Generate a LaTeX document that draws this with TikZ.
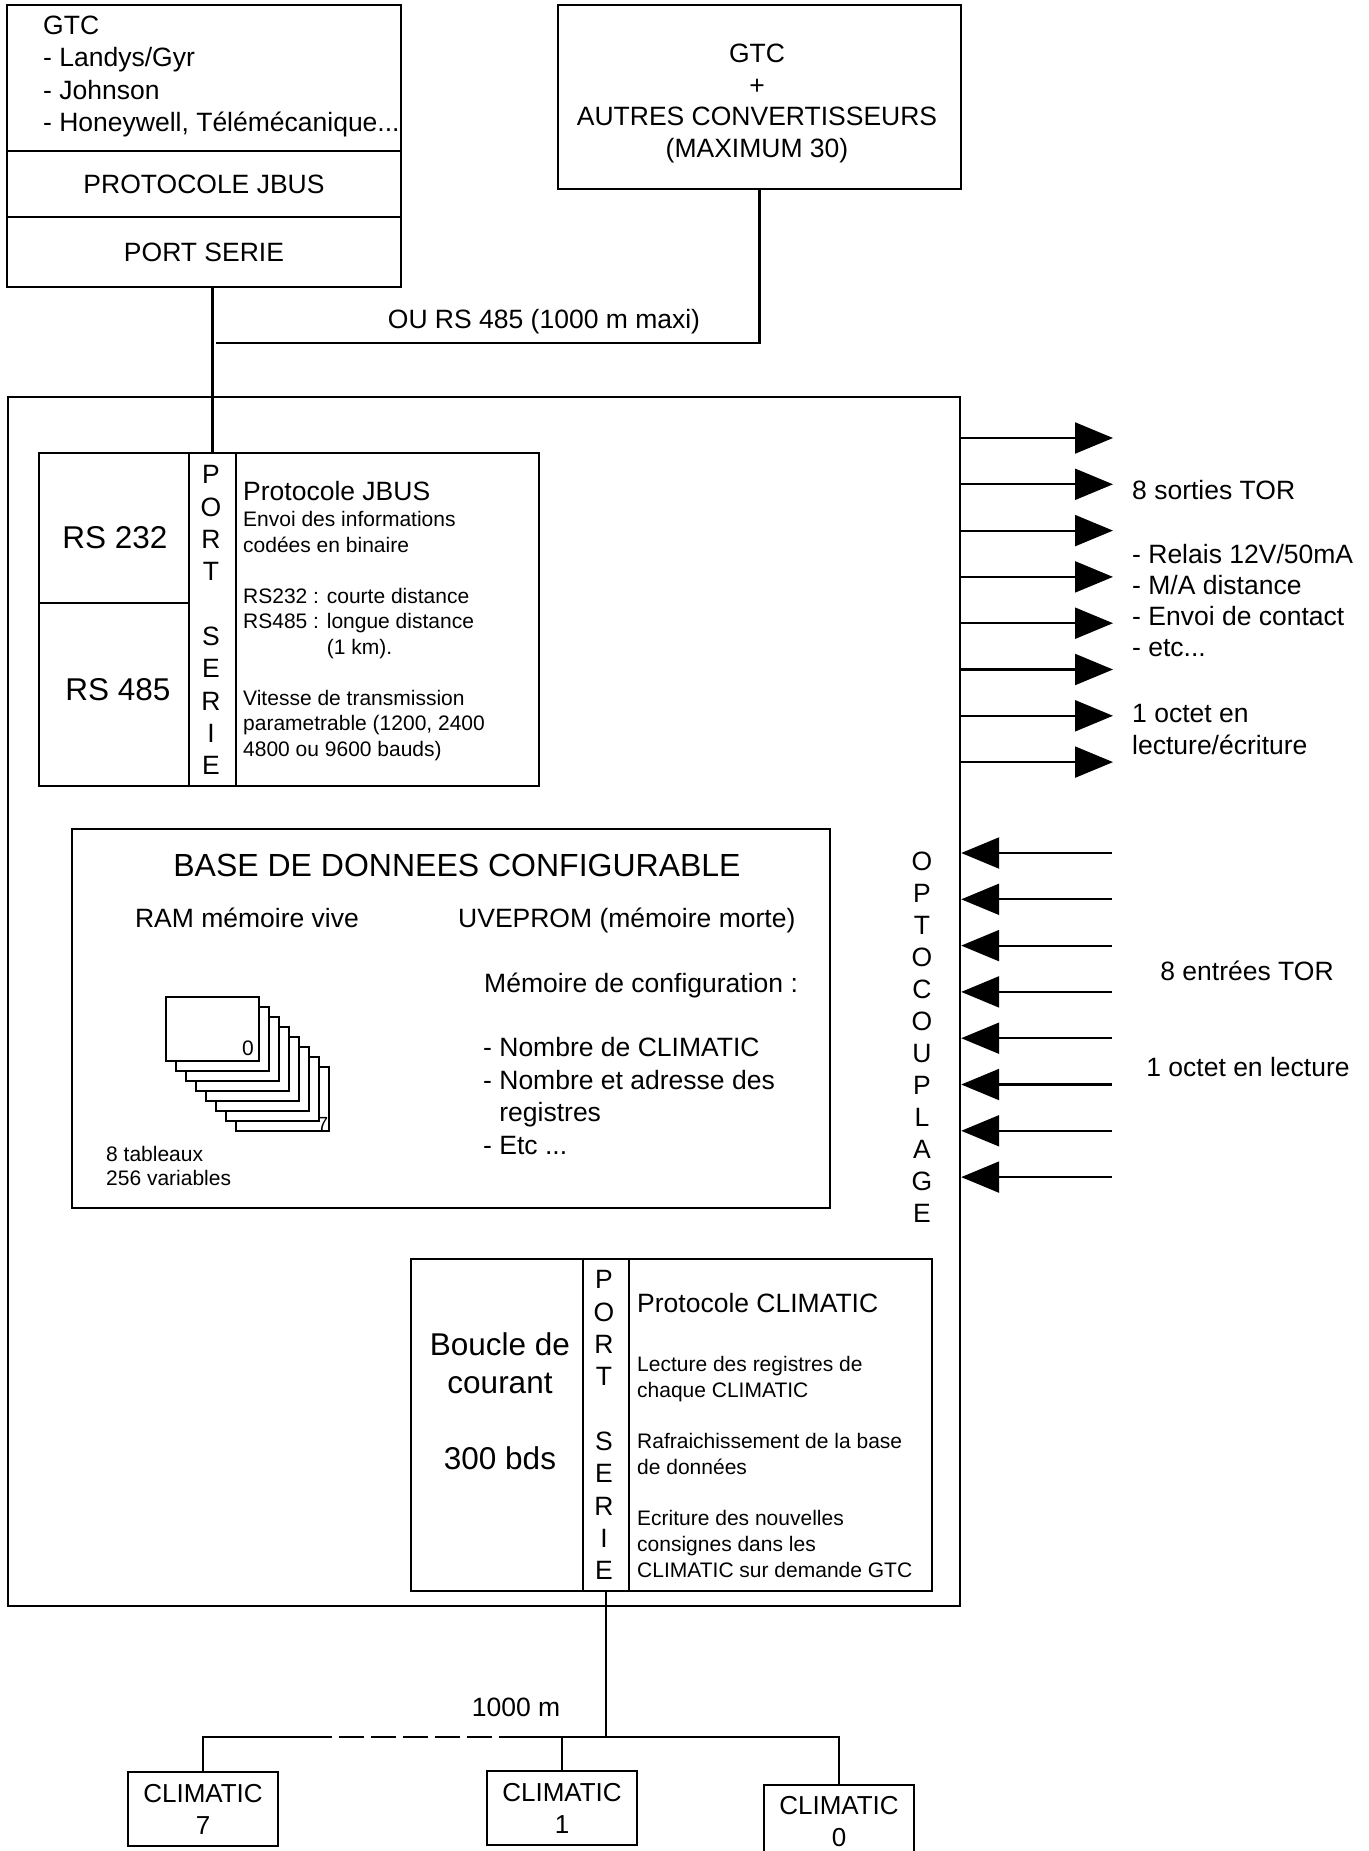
\documentclass[tikz,border=0pt]{standalone}
\usepackage{fontspec}
\setmainfont{Liberation Sans}
\usetikzlibrary{arrows.meta}

\newcommand{\fmain}{\fontsize{26.5}{32.3}\selectfont}
\newcommand{\fsmall}{\fontsize{21}{25.5}\selectfont}
\newcommand{\fbig}{\fontsize{31.5}{38}\selectfont}

\begin{document}
\begin{tikzpicture}[x=1pt, y=-1pt,
	blk/.style={draw, line width=2.4pt, inner sep=0pt},
	txt/.style={inner sep=0pt, font=\fmain},
	wire/.style={line width=2.2pt},
	sig/.style={wire, -{Triangle[length=38pt, width=31pt]}},
	leaf/.style={draw, fill=white, line width=1.8pt, inner sep=0pt, minimum width=93pt, minimum height=64pt},
	unit/.style={blk, minimum width=150pt, minimum height=74pt, align=center, font=\fontsize{26}{32}\selectfont}]
	\useasboundingbox (0,0) rectangle (1368,1851);

	% GTC
	\node[blk, minimum width=394pt, minimum height=146pt] (gtclist) at (204,78) {};
	\node[blk, minimum width=394pt, minimum height=66pt, font=\fmain] (gtcproto) at (204,184) {PROTOCOLE JBUS};
	\node[blk, minimum width=394pt, minimum height=70pt, font=\fmain] (gtcport) at (204,252) {PORT SERIE};
	\node[txt, anchor=north west, align=left] (gtcnames) at (43,16) {GTC\\- Landys/Gyr\\- Johnson\\- Honeywell, Télémécanique...};
	\node[blk, minimum width=403pt, minimum height=184pt] (conv) at (759.5,97) {};
	\node[txt, anchor=north, align=center, font=\fontsize{26.5}{31.8}\selectfont] (convtext) at (757,43.5) {GTC\\+\\AUTRES CONVERTISSEURS\\(MAXIMUM 30)};

	% converter
	\node[blk, minimum width=952pt, minimum height=1209pt] (main) at (484,1001.5) {};

	% port JBUS
	\node[blk, minimum width=150pt, minimum height=150pt] (rs232) at (114,528) {};
	\node[blk, minimum width=150pt, minimum height=183pt] (rs485) at (114,694.5) {};
	\node[blk, minimum width=47pt, minimum height=333pt] (jbusport) at (212.5,619.5) {};
	\node[blk, minimum width=303pt, minimum height=333pt] (jbusinfo) at (387.5,619.5) {};
	\node[txt, font=\fbig] (rs232text) at (115,538) {RS 232};
	\node[txt, font=\fbig] (rs485text) at (118,690) {RS 485};
	\node[txt, anchor=north, align=center] (jbusletters) at (211,465.5) {P\\O\\R\\T\\[32.3pt]S\\E\\R\\I\\E};
	\node[txt, anchor=base west] (jbustitle) at (243,500) {Protocole JBUS};
	\node[txt, anchor=north west, align=left, font=\fsmall] (jbusbody) at (243,511.5) {Envoi des informations\\codées en binaire\\[25.5pt]RS232 : courte distance\\RS485 : longue distance\\\phantom{RS485 : }(1 km).\\[25.5pt]Vitesse de transmission\\parametrable (1200, 2400\\4800 ou 9600 bauds)};

	% base de donnees
	\node[blk, minimum width=758pt, minimum height=379pt] (db) at (451,1018.5) {};
	\node[txt, font=\fontsize{32}{38}\selectfont] (dbtitle) at (457,865) {BASE DE DONNEES CONFIGURABLE};
	\node[txt, anchor=base] (ram) at (247,927.5) {RAM mémoire vive};
	\node[txt, anchor=base west] (rom) at (458,927.5) {UVEPROM (mémoire morte)};
	\node[txt, anchor=base west] (romconf) at (484,992.5) {Mémoire de configuration :};
	\node[txt, anchor=north west, align=left, font=\fontsize{26.5}{32.5}\selectfont] (romlist) at (483,1037.5) {- Nombre de CLIMATIC\\- Nombre et adresse des\\\phantom{- }registres\\- Etc ...};
	\node[leaf] (page7) at (282.5,1099) {};
	\node[txt, font=\fontsize{19}{23}\selectfont] (page7num) at (323,1124) {7};
	\foreach \k in {6,5,...,0}
		\node[leaf] (page\k) at ({212.5+10*\k},{1029+10*\k}) {};
	\node[txt, font=\fontsize{21}{25}\selectfont] (page0num) at (248,1048) {0};
	\node[txt, anchor=north west, align=left, font=\fontsize{21}{24}\selectfont] (tables) at (106,1146.5) {8 tableaux\\256 variables};

	% sorties
	\foreach \i in {0,...,7} {
		\coordinate (out\i) at (1113,{438+46.3*\i});
		\draw[sig] (main.east |- out\i) -- (out\i);
	}
	\node[txt, anchor=base west] (torout) at (1132,499.5) {8 sorties TOR};
	\node[txt, anchor=north west, align=left, font=\fontsize{26.5}{31}\selectfont] (relais) at (1132,544.5) {- Relais 12V/50mA\\- M/A distance\\- Envoi de contact\\- etc...};
	\node[txt, anchor=north west, align=left, font=\fontsize{26.5}{31.5}\selectfont] (octetrw) at (1132,704.5) {1 octet en\\lecture/écriture};

	% entrees
	\foreach \i in {0,...,7} {
		\coordinate (in\i) at (1112,{853+46.3*\i});
		\draw[sig] (in\i) -- (main.east |- in\i);
	}
	\node[txt, anchor=north, align=center, font=\fontsize{26.5}{32}\selectfont] (opto) at (922,851.5) {O\\P\\T\\O\\C\\O\\U\\P\\L\\A\\G\\E};
	\node[txt, anchor=base] (torin) at (1247,980.5) {8 entrées TOR};
	\node[txt, anchor=base] (octetr) at (1248,1076.5) {1 octet en lecture};

	% port CLIMATIC
	\node[blk, minimum width=172pt, minimum height=332pt] (boucle) at (497,1425) {};
	\node[blk, minimum width=46pt, minimum height=332pt] (climport) at (606,1425) {};
	\node[blk, minimum width=303pt, minimum height=332pt] (climinfo) at (780.5,1425) {};
	\node[txt, anchor=north, align=center, font=\fbig] (boucletext) at (500,1332) {Boucle de\\courant\\[38pt]300 bds};
	\node[txt, anchor=north, align=center] (climletters) at (604,1270.5) {P\\O\\R\\T\\[32.3pt]S\\E\\R\\I\\E};
	\node[txt, anchor=base west] (climtitle) at (637,1312.5) {Protocole CLIMATIC};
	\node[txt, anchor=north west, align=left, font=\fontsize{21}{25.7}\selectfont] (climbody) at (637,1356) {Lecture des registres de\\chaque CLIMATIC\\[25.7pt]Rafraichissement de la base\\de données\\[25.7pt]Ecriture des nouvelles\\consignes dans les\\CLIMATIC sur demande GTC};

	% CLIMATIC
	\node[unit] (clim7) at (203,1809) {CLIMATIC\\7};
	\node[unit] (clim1) at (562,1808) {CLIMATIC\\1};
	\node[unit] (clim0) at (839,1822) {CLIMATIC\\0};

	% liaisons
	\draw[wire] (gtcport.south -| jbusport.north) -- (jbusport.north);
	\coordinate (rsjoin) at (216,343);
	\draw[wire] (conv.south) |- (rsjoin);
	\node[txt, anchor=base] (rslabel) at (544,329) {OU RS 485 (1000 m maxi)};
	\coordinate (dashstart) at (332,1737);
	\coordinate (dashend) at (518,1737);
	\draw[wire] (clim7.north) |- (dashstart);
	\draw[wire, dash pattern=on 25pt off 7pt, dash phase=25pt] (dashstart) -- (dashend);
	\draw[wire] (dashend) -| (clim0.north);
	\draw[wire] (clim1.north) -- (clim1.north |- dashend);
	\draw[wire] (climport.south) -- (climport.south |- dashend);
	\node[txt, anchor=base] (dist) at (516,1716.5) {1000 m};
\end{tikzpicture}
\end{document}
